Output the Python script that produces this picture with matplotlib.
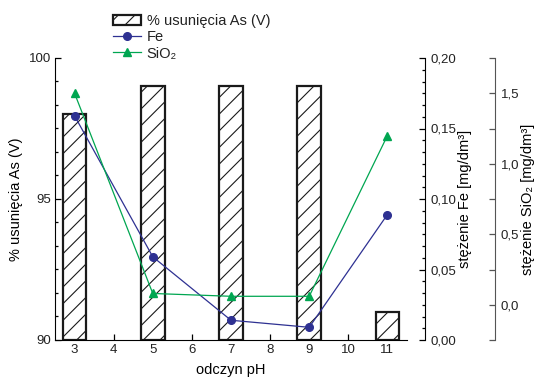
import numpy as np
import matplotlib
matplotlib.use("Agg")
import matplotlib.pyplot as plt
from matplotlib.ticker import MultipleLocator, FixedLocator
from matplotlib.patches import Patch
from matplotlib.lines import Line2D

plt.rcParams['font.family'] = ['Liberation Sans', 'DejaVu Sans']
plt.rcParams['font.size'] = 9.5
plt.rcParams['hatch.linewidth'] = 0.8
plt.rcParams['text.color'] = '#222222'
plt.rcParams['xtick.labelcolor'] = '#222222'
plt.rcParams['ytick.labelcolor'] = '#222222'

# data
ph = [3, 5, 7, 9, 11]
as_removal = [98.0, 99.0, 99.0, 99.0, 91.0]   # % usuniecia As (V)
fe = [0.159, 0.059, 0.014, 0.009, 0.089]     # mg/dm3
sio2 = [1.50, 0.08, 0.06, 0.06, 1.20]        # mg/dm3

fe_col = '#2E3192'
si_col = '#00A651'

fig = plt.figure(figsize=(5.39, 3.78), dpi=100)
ax = fig.add_axes([55/539, 1-340/378, (407-55)/539, (340-58)/378])

# bars
ax.bar(ph, np.array(as_removal) - 90, bottom=90, width=0.6, color='white',
       edgecolor='#1a1a1a', linewidth=1.6, hatch='//', zorder=2)
ax.set_xlim(2.5, 11.5)
ax.set_ylim(90, 100)
ax.set_xticks(range(3, 12))
ax.yaxis.set_major_locator(FixedLocator([90, 95, 100]))
ax.yaxis.set_minor_locator(MultipleLocator(5/6))
ax.spines['top'].set_visible(False)
ax.spines['right'].set_visible(False)
ax.tick_params(direction='in', which='both', length=4, width=0.9, pad=3)
ax.tick_params(which='minor', length=2.5)
ax.set_xlabel('odczyn pH', fontsize=10.5, labelpad=5)
ax.set_ylabel('% usunięcia As (V)', fontsize=10.5, labelpad=4)

# Fe axis (offset given in points: px * 0.72)
ax2 = ax.twinx()
ax2.plot(ph, fe, color=fe_col, lw=0.9, marker='o', ms=5.5)
ax2.set_ylim(0, 0.2)
ax2.spines['right'].set_position(('outward', 18 * 0.72))
for s in ['top', 'left', 'bottom']:
    ax2.spines[s].set_visible(False)
ax2.yaxis.set_major_locator(FixedLocator([0, 0.05, 0.10, 0.15, 0.20]))
ax2.yaxis.set_minor_locator(MultipleLocator(0.05/6))
ax2.set_yticklabels(['0,00', '0,05', '0,10', '0,15', '0,20'])
ax2.tick_params(direction='in', which='both', length=4, width=0.9, pad=4)
ax2.tick_params(which='minor', length=2.5)
ax2.set_ylabel('stężenie Fe [mg/dm³]', fontsize=10.5, labelpad=1)

# SiO2 axis
ax3 = ax.twinx()
ax3.plot(ph, sio2, color=si_col, lw=0.9, marker='^', ms=6)
ax3.set_ylim(-0.25, 1.75)
ax3.spines['right'].set_position(('outward', 88 * 0.72))
ax3.spines['right'].set_color('#555555')
for s in ['top', 'left', 'bottom']:
    ax3.spines[s].set_visible(False)
ax3.yaxis.set_major_locator(FixedLocator([0, 0.5, 1.0, 1.5]))
ax3.yaxis.set_minor_locator(MultipleLocator(0.25))
ax3.set_yticklabels(['0,0', '0,5', '1,0', '1,5'])
ax3.tick_params(direction='in', which='both', length=4, width=0.9, pad=4, color='#555555')
ax3.set_ylabel('stężenie SiO₂ [mg/dm³]', fontsize=10.5)
ax3.yaxis.set_label_coords((521 - 55) / 352, 0.5)

handles = [Patch(facecolor='white', edgecolor='#1a1a1a', hatch='//', linewidth=1.6),
           Line2D([], [], color=fe_col, lw=0.9, marker='o', ms=5.5),
           Line2D([], [], color=si_col, lw=0.9, marker='^', ms=6)]
labels = ['% usunięcia As (V)', 'Fe', 'SiO₂']
fig.legend(handles, labels, loc='upper left', bbox_to_anchor=(103/539, 1 - 4/378),
           frameon=False, fontsize=10.5, handlelength=1.9, handletextpad=0.4,
           labelspacing=0.15, borderpad=0.2)

fig.savefig('out.png', dpi=100)
